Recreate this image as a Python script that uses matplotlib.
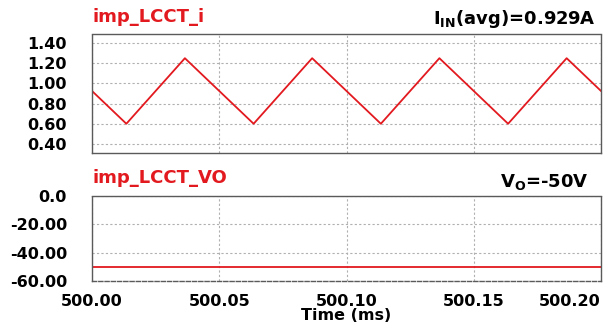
from matplotlib import pyplot as plt

# current waveform vertices (time in ms, current in A)
t_current = [500.0, 500.0135, 500.0365, 500.0635, 500.0865, 500.1135,
             500.1365, 500.1635, 500.1865, 500.2]
i_current = [0.925, 0.60, 1.25, 0.60, 1.25, 0.60, 1.25, 0.60, 1.25, 0.925]

# output voltage
t_vout = [500.0, 500.2]
v_out = [-50.0, -50.0]

x_ticks = [500.00, 500.05, 500.10, 500.15, 500.20]
x_ticklabels = ["500.00", "500.05", "500.10", "500.15", "500.20"]
top_yticks = [0.40, 0.60, 0.80, 1.00, 1.20, 1.40]
top_yticklabels = ["0.40", "0.60", "0.80", "1.00", "1.20", "1.40"]
bot_yticks = [-60, -40, -20, 0]
bot_yticklabels = ["-60.00", "-40.00", "-20.00", "0.0"]

RED = '#e2191f'
EDGE = '#5a5a5a'
GRID = '#b0b0b0'

plt.rcParams['ytick.major.pad'] = 18
plt.rcParams['xtick.major.pad'] = 9
plt.rcParams['xtick.major.size'] = 0
plt.rcParams['ytick.major.size'] = 0

fig = plt.figure(figsize=(6.06, 3.27), dpi=100)
ax1 = fig.add_axes([92 / 606, 1 - 153 / 327, 509 / 606, 119 / 327])
ax2 = fig.add_axes([92 / 606, 1 - 281 / 327, 509 / 606, 85 / 327])


def style_axes(ax, top_ls, bottom_ls):
    ax.set_xlim(500.0, 500.2)
    ax.set_xticks(x_ticks)
    ax.grid(True, color=GRID, linestyle=(0, (2, 2)), linewidth=0.8)
    ax.tick_params(axis='both', labelsize=11.5)
    ax.spines['top'].set_linestyle(top_ls)
    ax.spines['bottom'].set_linestyle(bottom_ls)
    ax.spines['left'].set_linestyle((0, (1, 1)))
    ax.spines['right'].set_linestyle((0, (1, 1)))
    for s in ax.spines.values():
        s.set_color(EDGE)
        s.set_linewidth(1.0)


# top plot: inductor current
ax1.plot(t_current, i_current, color=RED, linewidth=1.3)
style_axes(ax1, '-', '-')
ax1.set_ylim(0.31, 1.49)
ax1.set_yticks(top_yticks)
ax1.set_yticklabels(top_yticklabels, fontweight='bold')
ax1.set_xticklabels([])

# bottom plot: output voltage
ax2.plot(t_vout, v_out, color=RED, linewidth=1.3)
style_axes(ax2, (0, (1, 1)), (0, (3, 1.5)))
ax2.set_ylim(-60, 0)
ax2.set_yticks(bot_yticks)
ax2.set_yticklabels(bot_yticklabels, fontweight='bold')
ax2.set_xticklabels(x_ticklabels, fontweight='bold')
ax2.get_xticklabels()[-1].set_horizontalalignment('right')

ax2.set_xlabel('Time (ms)', fontsize=11.5, fontweight='bold', va='center')
ax2.xaxis.set_label_coords(0.5, -0.41)

# labels
fig.text(93 / 606, 1 - 17 / 327, 'imp_LCCT_i', color=RED, fontsize=13,
         fontweight='bold', va='center', ha='left')
fig.text(93 / 606, 1 - 178 / 327, 'imp_LCCT_VO', color=RED, fontsize=13,
         fontweight='bold', va='center', ha='left')
fig.text(596 / 606, 1 - 19 / 327, r'I$_{\mathbf{IN}}$(avg)=0.929A', color='black',
         fontsize=13, fontweight='bold', va='center', ha='right')
fig.text(589 / 606, 1 - 182 / 327, r'V$_{\mathbf{O}}$=-50V', color='black',
         fontsize=13, fontweight='bold', va='center', ha='right')

fig.savefig('out.png', dpi=100)
